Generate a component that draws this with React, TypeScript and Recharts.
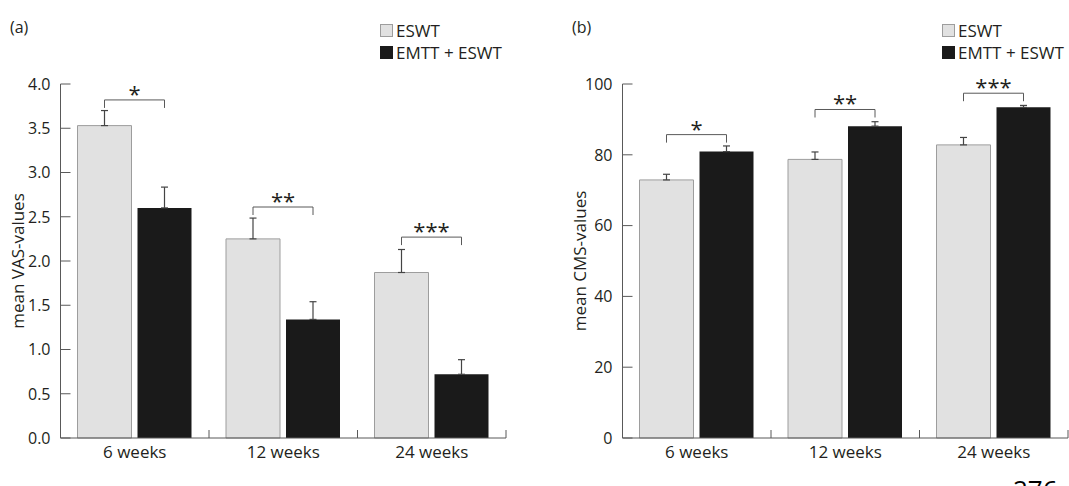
import React from "react"
import { BarChart, Bar, XAxis, YAxis, ErrorBar, LabelList, Legend } from "recharts"

const categories = ["6 weeks", "12 weeks", "24 weeks"]
const seriesNames = ["ESWT", "EMTT + ESWT"]
const significance = ["*", "**", "***"]

// panel (a): VAS
const vasEswt = [3.53, 2.25, 1.87]
const vasEswtErr = [0.17, 0.235, 0.26]
const vasCombined = [2.6, 1.34, 0.72]
const vasCombinedErr = [0.235, 0.2, 0.165]
const vasBracket = [3.82, 2.61, 2.27]
const vasTicks = [0, 0.5, 1, 1.5, 2, 2.5, 3, 3.5, 4]

// panel (b): CMS
const cmsEswt = [72.9, 78.7, 82.8]
const cmsEswtErr = [1.6, 2.1, 2.1]
const cmsCombined = [80.9, 88.1, 93.4]
const cmsCombinedErr = [1.6, 1.25, 0.55]
const cmsBracket = [85.7, 92.8, 97.4]
const cmsTicks = [0, 20, 40, 60, 80, 100]

const FONT = "'Open Sans', sans-serif"
const INK = "#231f20"
const AXIS = "#595959"
const GREY = "#e1e1e1"
const BLACK = "#1a1a1a"
const BAR_SIZE = 54
const BAR_GAP = 6

const buildRows = (a: number[], aErr: number[], b: number[], bErr: number[], br: number[]) =>
  categories.map((name, i) => ({
    name,
    eswt: a[i],
    eswtErr: [0, aErr[i]],
    combined: b[i],
    combinedErr: [0, bErr[i]],
    bracket: br[i],
    sig: significance[i],
  }))

const vasRows = buildRows(vasEswt, vasEswtErr, vasCombined, vasCombinedErr, vasBracket)
const cmsRows = buildRows(cmsEswt, cmsEswtErr, cmsCombined, cmsCombinedErr, cmsBracket)

const YTick = (props: any) => {
  const { x, y, payload, fmt } = props
  return (
    <g>
      <line x1={x + 10} x2={x + 20} y1={y} y2={y} stroke={AXIS} strokeWidth={1} />
      <text x={x} y={y} dy="0.36em" textAnchor="end" fontSize={16} fontFamily={FONT} fill={INK}>
        {fmt(payload.value)}
      </text>
    </g>
  )
}

// category label in the middle, boundary tick pointing up at the right edge of the band
const XTick = (props: any) => {
  const { x, y, payload, width, visibleTicksCount } = props
  const half = payload.offset ?? width / visibleTicksCount / 2
  const bx = x + half
  return (
    <g>
      <line x1={bx} x2={bx} y1={y} y2={y - 8} stroke={AXIS} strokeWidth={1} />
      <text x={x} y={y + 20} textAnchor="middle" fontSize={17} fontFamily={FONT} fill={INK}>
        {payload.value}
      </text>
    </g>
  )
}

const AxisTitle = (props: any) => {
  const vb = props.viewBox
  const cx = vb.x + 17
  const cy = vb.y + vb.height / 2
  return (
    <text
      x={cx}
      y={cy}
      transform={`rotate(-90 ${cx} ${cy})`}
      textAnchor="middle"
      dominantBaseline="central"
      fontSize={17}
      fontFamily={FONT}
      fill={INK}
    >
      {props.value}
    </text>
  )
}

// bracket + stars, placed from the ESWT bar geometry (value -> pixel via bar height)
const Bracket = (props: any) => {
  const { index, rows } = props
  const vb = props.viewBox ?? props
  const { x, y, width, height } = vb
  const row = rows[index]
  const k = height / row.eswt
  const by = y + height - row.bracket * k
  const x1 = x + width / 2
  const x2 = x + width + BAR_GAP + width / 2
  return (
    <g>
      <path d={`M${x1},${by + 8} V${by} H${x2} V${by + 8}`} fill="none" stroke={AXIS} strokeWidth={1} />
      <text x={(x1 + x2) / 2} y={by + 2} textAnchor="middle" fontSize={22} fontFamily={FONT} fill={INK}>
        {row.sig}
      </text>
    </g>
  )
}

const renderLegend = (p: any) => {
  const items = [...(p.payload || [])].sort(
    (a: any, b: any) => seriesNames.indexOf(a.value) - seriesNames.indexOf(b.value)
  )
  return (
    <div style={{ fontFamily: FONT, fontSize: 17, color: INK }}>
      {items.map((item: any, i: number) => (
        <div key={i} style={{ display: "flex", alignItems: "center", height: 22 }}>
          <span
            style={{
              display: "inline-block",
              width: 13,
              height: 13,
              boxSizing: "border-box",
              background: item.value === seriesNames[0] ? GREY : BLACK,
              border: item.value === seriesNames[0] ? "1px solid #9d9d9d" : "none",
              marginRight: 3,
            }}
          />
          {item.value}
        </div>
      ))}
    </div>
  )
}

function Panel({ left, tag, title, rows, domain, ticks, fmt }: any) {
  return (
    <div style={{ position: "absolute", left, top: 0, width: 540, height: 486 }}>
      <div style={{ position: "absolute", left: 10, top: 15, fontFamily: FONT, fontSize: 16, color: INK, lineHeight: "24px" }}>
        {tag}
      </div>
      <BarChart
        width={540}
        height={486}
        data={rows}
        margin={{ top: 84, right: 34, bottom: 18, left: 0 }}
        barGap={BAR_GAP}
      >
        <XAxis
          dataKey="name"
          height={30}
          tickSize={0}
          tickMargin={0}
          tickLine={false}
          axisLine={{ stroke: AXIS }}
          tick={(t: any) => <XTick {...t} />}
          interval={0}
        />
        <YAxis
          width={60.5}
          domain={domain}
          ticks={ticks}
          interval={0}
          tickSize={0}
          tickMargin={10}
          tickLine={false}
          axisLine={{ stroke: AXIS }}
          tick={(t: any) => <YTick {...t} fmt={fmt} />}
          label={{ value: title, content: (l: any) => <AxisTitle {...l} /> }}
        />
        <Legend
          layout="vertical"
          align="center"
          verticalAlign="middle"
          wrapperStyle={{ left: 380, top: 19, width: 160 }}
          content={renderLegend}
        />
        <Bar dataKey="eswt" name={seriesNames[0]} fill={GREY} stroke="#9d9d9d" strokeWidth={1} barSize={BAR_SIZE} isAnimationActive={false}>
          <ErrorBar dataKey="eswtErr" direction="y" width={3.5} stroke="#444" strokeWidth={1.2} />
          <LabelList dataKey="bracket" content={(l: any) => <Bracket {...l} rows={rows} />} />
        </Bar>
        <Bar dataKey="combined" name={seriesNames[1]} fill={BLACK} barSize={BAR_SIZE} isAnimationActive={false}>
          <ErrorBar dataKey="combinedErr" direction="y" width={3.5} stroke="#444" strokeWidth={1.2} />
        </Bar>
      </BarChart>
    </div>
  )
}

export default function App() {
  return (
    <div style={{ position: "absolute", left: 0, top: 0, width: 1069, height: 486, overflow: "hidden", background: "#fff" }}>
      <Panel left={0} tag="(a)" title="mean VAS-values" rows={vasRows} domain={[0, 4]} ticks={vasTicks} fmt={(v: number) => v.toFixed(1)} />
      <Panel left={562} tag="(b)" title="mean CMS-values" rows={cmsRows} domain={[0, 100]} ticks={cmsTicks} fmt={(v: number) => String(v)} />
      <div style={{ position: "absolute", left: 1013, top: 476, fontFamily: FONT, fontSize: 26, lineHeight: "26px", color: "#000" }}>
        276
      </div>
    </div>
  )
}
